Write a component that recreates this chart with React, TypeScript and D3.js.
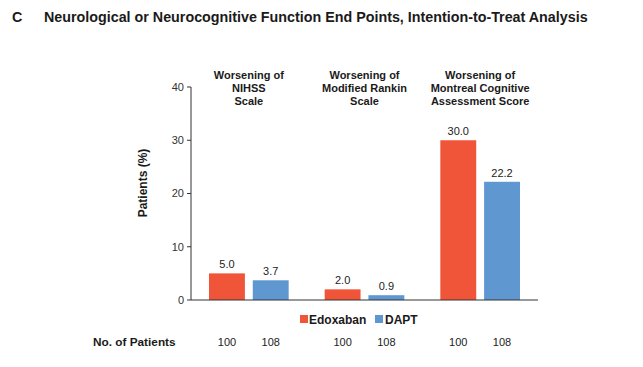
import React from 'react';
import * as d3 from 'd3';

const groups = ['NIHSS', 'Rankin', 'MoCA'];
const groupTitles = [
  ['Worsening of', 'NIHSS', 'Scale'],
  ['Worsening of', 'Modified Rankin', 'Scale'],
  ['Worsening of', 'Montreal Cognitive', 'Assessment Score'],
];
const series = ['Edoxaban', 'DAPT'];
const edoxaban = [5.0, 2.0, 30.0];
const dapt = [3.7, 0.9, 22.2];
const patientsEdoxaban = [100, 100, 100];
const patientsDapt = [108, 108, 108];
const yTicks = [0, 10, 20, 30, 40];

const colors: Record<string, string> = { Edoxaban: '#F0553A', DAPT: '#5F97D1' };
const font = 'Liberation Sans, Arial, sans-serif';

const App: React.FC = () => {
  const width = 643;
  const height = 367;
  const left = 191;
  const right = 538;
  const top = 87;
  const bottom = 300;

  const x0 = d3.scaleBand<string>().domain(groups).range([left, right]).padding(0);
  const x1 = d3.scaleBand<string>().domain(series).range([18, x0.bandwidth() - 18]).paddingInner(0.18).paddingOuter(0);
  const y = d3.scaleLinear().domain([0, 40]).range([bottom, top]);

  const values: Record<string, number[]> = { Edoxaban: edoxaban, DAPT: dapt };
  const counts: Record<string, number[]> = { Edoxaban: patientsEdoxaban, DAPT: patientsDapt };

  return (
    <svg width={width} height={height} style={{ position: 'absolute', left: 0, top: 0, background: '#fff' }} fontFamily={font}>
      <text x={12} y={22} fontSize={14.3} fontWeight="bold" fill="#1a1a1a">C</text>
      <text x={44} y={22} fontSize={14.3} fontWeight="bold" fill="#1a1a1a">
        Neurological or Neurocognitive Function End Points, Intention-to-Treat Analysis
      </text>

      {/* y axis */}
      <line x1={left} x2={left} y1={top} y2={bottom} stroke="#333" strokeWidth={1} />
      {yTicks.map(t => (
        <g key={t}>
          <line x1={left - 4} x2={left} y1={y(t)} y2={y(t)} stroke="#333" />
          <text x={left - 7} y={y(t)} dy="0.35em" textAnchor="end" fontSize={11} fill="#333">{t}</text>
        </g>
      ))}
      <text
        transform={`translate(147,183) rotate(-90)`}
        textAnchor="middle"
        fontSize={12}
        fontWeight="bold"
        fill="#1a1a1a"
      >
        Patients (%)
      </text>

      {/* bars */}
      {groups.map((g, gi) => (
        <g key={g} transform={`translate(${x0(g)},0)`}>
          {series.map(s => {
            const v = values[s][gi];
            const bx = x1(s) as number;
            return (
              <g key={s}>
                <rect x={bx} y={y(v)} width={x1.bandwidth()} height={bottom - y(v)} fill={colors[s]} />
                <text x={bx + x1.bandwidth() / 2} y={y(v) - 5} textAnchor="middle" fontSize={11} fill="#222">
                  {v.toFixed(1)}
                </text>
                <text x={bx + x1.bandwidth() / 2} y={346} textAnchor="middle" fontSize={11} fill="#222">
                  {counts[s][gi]}
                </text>
              </g>
            );
          })}
          {groupTitles[gi].map((line, li) => (
            <text key={li} x={x0.bandwidth() / 2} y={79 + li * 13} textAnchor="middle" fontSize={11} fontWeight="bold" fill="#1a1a1a">
              {line}
            </text>
          ))}
        </g>
      ))}

      {/* x axis */}
      <line x1={left} x2={right} y1={bottom} y2={bottom} stroke="#333" strokeWidth={1} />

      {/* legend */}
      <rect x={300} y={315} width={8} height={8} fill={colors.Edoxaban} />
      <text x={309} y={323.5} fontSize={12} fontWeight="bold" fill="#1a1a1a">Edoxaban</text>
      <rect x={375} y={315} width={8} height={8} fill={colors.DAPT} />
      <text x={385} y={323.5} fontSize={12} fontWeight="bold" fill="#1a1a1a">DAPT</text>

      <text x={93} y={346} fontSize={11.8} fontWeight="bold" fill="#1a1a1a">No. of Patients</text>
    </svg>
  );
};

export default App;
